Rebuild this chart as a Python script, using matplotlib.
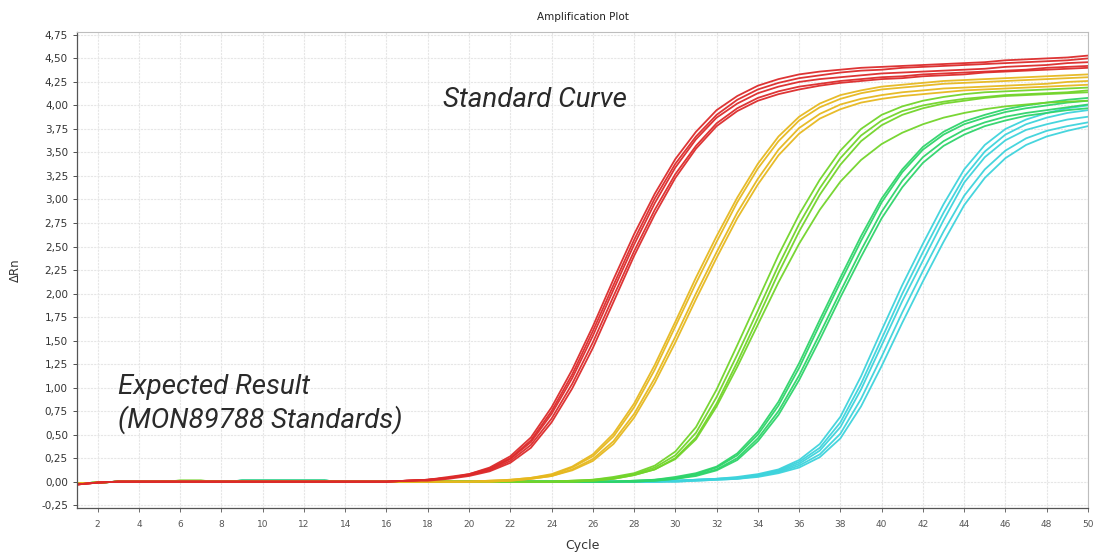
import matplotlib
matplotlib.use("Agg")
import matplotlib.pyplot as plt
from matplotlib.ticker import FuncFormatter

cycles = list(range(1, 51))

# ---- red standard (highest concentration), values from cycle 17 to 50
red_base = [-0.03, -0.01, 0.00, 0.00, 0.00, 0.00, 0.00, 0.00, 0.00, 0.00, 0.00, 0.00, 0.00, 0.00, 0.00, 0.00]
red_1 = [0.01, 0.02, 0.05, 0.08, 0.15, 0.27, 0.47, 0.79, 1.19, 1.65, 2.15, 2.63, 3.06, 3.43, 3.72, 3.95, 4.10, 4.21, 4.28, 4.33, 4.36, 4.38, 4.40, 4.41, 4.42, 4.43, 4.44, 4.45, 4.46, 4.48, 4.49, 4.50, 4.51, 4.53]
red_2 = [0.01, 0.02, 0.04, 0.08, 0.14, 0.25, 0.44, 0.75, 1.14, 1.60, 2.09, 2.57, 3.01, 3.38, 3.67, 3.90, 4.06, 4.17, 4.24, 4.29, 4.32, 4.35, 4.37, 4.38, 4.40, 4.41, 4.42, 4.43, 4.44, 4.45, 4.46, 4.47, 4.48, 4.50]
red_3 = [0.01, 0.02, 0.04, 0.07, 0.13, 0.24, 0.42, 0.72, 1.10, 1.55, 2.04, 2.52, 2.96, 3.34, 3.64, 3.87, 4.02, 4.13, 4.20, 4.25, 4.28, 4.30, 4.32, 4.34, 4.35, 4.36, 4.37, 4.38, 4.39, 4.41, 4.42, 4.43, 4.45, 4.46]
red_4 = [0.01, 0.02, 0.04, 0.07, 0.12, 0.22, 0.39, 0.67, 1.04, 1.48, 1.97, 2.45, 2.89, 3.27, 3.57, 3.81, 3.97, 4.08, 4.15, 4.20, 4.23, 4.26, 4.28, 4.30, 4.31, 4.33, 4.34, 4.35, 4.36, 4.37, 4.38, 4.40, 4.41, 4.42]
red_5 = [0.01, 0.01, 0.03, 0.06, 0.11, 0.20, 0.36, 0.63, 0.99, 1.42, 1.91, 2.40, 2.84, 3.23, 3.54, 3.78, 3.94, 4.05, 4.12, 4.17, 4.21, 4.24, 4.26, 4.28, 4.29, 4.31, 4.32, 4.33, 4.35, 4.36, 4.37, 4.38, 4.39, 4.40]

# ---- yellow standard, values from cycle 21 to 50
yellow_base = [-0.02, -0.01, 0.00, 0.00, 0.00, 0.00, 0.00, 0.00, 0.00, 0.00, 0.00, 0.00, 0.00, 0.00, 0.00, 0.00, 0.00, 0.00, 0.00, 0.00]
yellow_1 = [0.01, 0.02, 0.04, 0.08, 0.16, 0.29, 0.51, 0.83, 1.24, 1.70, 2.17, 2.61, 3.02, 3.38, 3.67, 3.88, 4.02, 4.11, 4.16, 4.20, 4.22, 4.24, 4.26, 4.27, 4.28, 4.29, 4.30, 4.31, 4.32, 4.33]
yellow_2 = [0.01, 0.02, 0.04, 0.07, 0.15, 0.27, 0.48, 0.79, 1.19, 1.65, 2.11, 2.55, 2.97, 3.33, 3.62, 3.84, 3.98, 4.07, 4.13, 4.17, 4.19, 4.21, 4.23, 4.24, 4.25, 4.26, 4.27, 4.28, 4.29, 4.30]
yellow_3 = [0.00, 0.01, 0.03, 0.06, 0.13, 0.24, 0.43, 0.72, 1.10, 1.54, 2.00, 2.44, 2.86, 3.22, 3.53, 3.76, 3.91, 4.01, 4.07, 4.11, 4.14, 4.16, 4.18, 4.19, 4.20, 4.21, 4.22, 4.23, 4.25, 4.26]
yellow_4 = [0.00, 0.01, 0.03, 0.06, 0.12, 0.22, 0.40, 0.68, 1.05, 1.48, 1.94, 2.38, 2.80, 3.16, 3.47, 3.70, 3.86, 3.96, 4.03, 4.07, 4.10, 4.12, 4.14, 4.16, 4.17, 4.18, 4.19, 4.20, 4.21, 4.22]

# ---- lime standard, values from cycle 25 to 50
lime_base = [-0.02, -0.01, 0.00, 0.00, 0.00, 0.01, 0.01, 0.00, 0.00, 0.00, 0.00, 0.00, 0.00, 0.00, 0.00, 0.00, 0.00, 0.00, 0.00, 0.00, 0.00, 0.00, 0.00, 0.00]
lime_1 = [0.01, 0.02, 0.05, 0.09, 0.17, 0.32, 0.58, 0.98, 1.45, 1.93, 2.41, 2.84, 3.21, 3.52, 3.75, 3.90, 3.99, 4.05, 4.09, 4.12, 4.14, 4.15, 4.16, 4.17, 4.18, 4.19]
lime_2 = [0.01, 0.02, 0.04, 0.08, 0.15, 0.28, 0.52, 0.90, 1.35, 1.82, 2.30, 2.74, 3.12, 3.44, 3.68, 3.84, 3.94, 4.00, 4.04, 4.07, 4.09, 4.11, 4.12, 4.13, 4.14, 4.16]
lime_3 = [0.00, 0.01, 0.03, 0.07, 0.13, 0.25, 0.47, 0.83, 1.27, 1.74, 2.22, 2.66, 3.05, 3.37, 3.62, 3.79, 3.90, 3.97, 4.02, 4.05, 4.08, 4.10, 4.11, 4.12, 4.13, 4.14]
lime_4 = [0.00, 0.01, 0.03, 0.07, 0.13, 0.24, 0.45, 0.80, 1.22, 1.67, 2.12, 2.53, 2.89, 3.19, 3.42, 3.59, 3.71, 3.80, 3.87, 3.92, 3.96, 3.99, 4.01, 4.03, 4.04, 4.05]

# ---- green standard, values from cycle 28 to 50
green_base = [-0.02, -0.01, 0.00, 0.00, 0.00, 0.00, 0.00, 0.00, 0.01, 0.01, 0.01, 0.01, 0.01, 0.00, 0.00, 0.00, 0.00, 0.00, 0.00, 0.00, 0.00, 0.00, 0.00, 0.00, 0.00, 0.00, 0.00]
green_1 = [0.01, 0.02, 0.05, 0.09, 0.16, 0.30, 0.53, 0.85, 1.26, 1.72, 2.17, 2.61, 3.01, 3.32, 3.56, 3.72, 3.83, 3.90, 3.96, 4.00, 4.03, 4.06, 4.08]
green_2 = [0.01, 0.02, 0.04, 0.08, 0.15, 0.28, 0.50, 0.81, 1.21, 1.67, 2.12, 2.56, 2.97, 3.29, 3.53, 3.69, 3.80, 3.87, 3.93, 3.97, 4.00, 4.03, 4.05]
green_3 = [0.00, 0.01, 0.03, 0.07, 0.13, 0.25, 0.46, 0.75, 1.13, 1.57, 2.02, 2.46, 2.87, 3.20, 3.45, 3.62, 3.74, 3.82, 3.88, 3.92, 3.95, 3.98, 4.01]
green_4 = [0.00, 0.01, 0.03, 0.06, 0.12, 0.23, 0.43, 0.71, 1.08, 1.51, 1.96, 2.39, 2.80, 3.13, 3.39, 3.57, 3.69, 3.78, 3.84, 3.89, 3.92, 3.95, 3.97]

# ---- cyan standard (lowest concentration), values from cycle 30 to 50
cyan_base = [-0.02, -0.01, 0.00, 0.00, 0.00, 0.00, 0.00, 0.00, 0.01, 0.01, 0.01, 0.01, 0.01, 0.00, 0.00, 0.00, 0.00, 0.00, 0.00, 0.00, 0.00, 0.00, 0.00, 0.00, 0.00, 0.00, 0.00, 0.00, 0.00]
cyan_1 = [0.01, 0.02, 0.03, 0.05, 0.08, 0.13, 0.23, 0.40, 0.69, 1.12, 1.61, 2.09, 2.53, 2.95, 3.32, 3.58, 3.75, 3.85, 3.92, 3.97, 4.00]
cyan_2 = [0.01, 0.02, 0.03, 0.04, 0.07, 0.12, 0.21, 0.36, 0.63, 1.04, 1.52, 2.00, 2.44, 2.86, 3.24, 3.51, 3.69, 3.80, 3.87, 3.92, 3.95]
cyan_3 = [0.01, 0.02, 0.03, 0.04, 0.07, 0.11, 0.19, 0.33, 0.58, 0.98, 1.45, 1.92, 2.35, 2.78, 3.18, 3.45, 3.63, 3.74, 3.80, 3.85, 3.88]
cyan_4 = [0.00, 0.01, 0.02, 0.03, 0.06, 0.10, 0.17, 0.29, 0.51, 0.88, 1.33, 1.80, 2.24, 2.66, 3.04, 3.32, 3.52, 3.65, 3.73, 3.78, 3.82]
cyan_5 = [0.00, 0.01, 0.02, 0.03, 0.05, 0.09, 0.15, 0.26, 0.46, 0.80, 1.23, 1.69, 2.13, 2.55, 2.94, 3.23, 3.44, 3.58, 3.67, 3.73, 3.78]

groups = [
    (red_base, [red_1, red_2, red_3, red_4, red_5], "#dc2a2a"),
    (yellow_base, [yellow_1, yellow_2, yellow_3, yellow_4], "#e6b81e"),
    (lime_base, [lime_1, lime_2, lime_3, lime_4], "#72d42a"),
    (green_base, [green_1, green_2, green_3, green_4], "#2ed46a"),
    (cyan_base, [cyan_1, cyan_2, cyan_3, cyan_4, cyan_5], "#3dd3dc"),
]

title = "Amplification Plot"
xlabel = "Cycle"
ylabel = "\u0394Rn"
y_ticks = [-0.25, 0.0, 0.25, 0.5, 0.75, 1.0, 1.25, 1.5, 1.75, 2.0, 2.25, 2.5, 2.75,
           3.0, 3.25, 3.5, 3.75, 4.0, 4.25, 4.5, 4.75]
x_ticks = list(range(2, 51, 2))

fig = plt.figure(figsize=(11.05, 5.53), dpi=100)
ax = fig.add_axes([0.0697, 0.0814, 0.9149, 0.8606])

for base, reps, color in reversed(groups):
    for rep in reps:
        vals = base + rep
        ax.plot(cycles, vals, color=color, lw=1.3, alpha=0.95, solid_joinstyle="round")

ax.set_xlim(1, 50)
ax.set_ylim(-0.28, 4.78)
ax.set_xticks(x_ticks)
ax.set_yticks(y_ticks)
ax.yaxis.set_major_formatter(FuncFormatter(lambda v, p: f"{v:.2f}".replace(".", ",")))
ax.grid(True, color="#e6e6e6", lw=0.8, linestyle=(0, (2, 1)))
ax.set_axisbelow(True)

for side in ["top", "right"]:
    ax.spines[side].set_color("#bdbdbd")
    ax.spines[side].set_linewidth(0.8)
for side in ["left", "bottom"]:
    ax.spines[side].set_color("#555555")
    ax.spines[side].set_linewidth(0.9)

ax.tick_params(axis="y", labelsize=7.5, colors="#333333", length=3, width=0.6)
ax.tick_params(axis="x", labelsize=6.5, colors="#555555", length=3, width=0.6, pad=6)

ax.set_title(title, fontsize=7.5, color="#222222", pad=9)
ax.set_xlabel(xlabel, fontsize=9, color="#333333", labelpad=7)
ax.set_ylabel(ylabel, fontsize=8.5, color="#333333", labelpad=14)

font_ann = dict(fontsize=20, style="italic", color="#2a2a2a", family=["Roboto", "DejaVu Sans"])
ax.text(0.362, 0.857, "Standard Curve", transform=ax.transAxes, va="center", ha="left", **font_ann)
ax.text(0.0406, 0.254, "Expected Result", transform=ax.transAxes, va="center", ha="left", **font_ann)
ax.text(0.0406, 0.185, "(MON89788 Standards)", transform=ax.transAxes, va="center", ha="left", **font_ann)

fig.savefig("out.png", dpi=100, facecolor="white")
